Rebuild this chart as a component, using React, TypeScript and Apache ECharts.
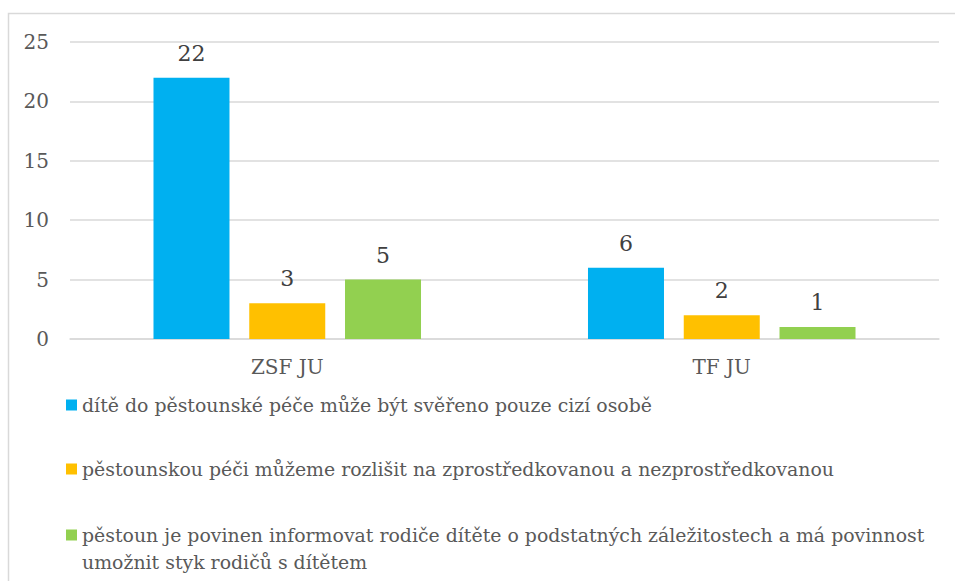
import React, { useEffect, useRef } from "react";
import * as echarts from "echarts";

const categories = ["ZSF JU", "TF JU"];
const legendLine1 = "dítě do pěstounské péče může být svěřeno pouze cizí osobě";
const legendLine2 = "pěstounskou péči můžeme rozlišit na zprostředkovanou a nezprostředkovanou";
const legendLine3a = "pěstoun je povinen informovat rodiče dítěte o podstatných záležitostech a má povinnost";
const legendLine3b = "umožnit styk rodičů s dítětem";
const seriesNames = [legendLine1, legendLine2, legendLine3a + " " + legendLine3b];
const seriesA = [22, 6];
const seriesB = [3, 2];
const seriesC = [5, 1];
const seriesValues = [seriesA, seriesB, seriesC];
const colors = ["#00B0F0", "#FFC000", "#92D050"];
const yMin = 0;
const yMax = 25;
const yInterval = 5;

const FONT = "DejaVu Serif";
const TXT = "#595959";

export default function App() {
  const ref = useRef<HTMLDivElement>(null);
  useEffect(() => {
    if (!ref.current) return;
    const chart = echarts.init(ref.current, undefined, { renderer: "svg" });
    const legendText = { color: TXT, fontFamily: FONT, fontSize: 18.9, lineHeight: 27 };
    const legendBase = {
      orient: "vertical",
      left: 66,
      padding: 0,
      itemWidth: 11,
      itemHeight: 11,
      itemGap: 0,
      selectedMode: false,
      icon: "rect",
      textStyle: legendText,
    };
    chart.setOption({
      animation: false,
      backgroundColor: "#ffffff",
      textStyle: { fontFamily: FONT },
      graphic: [
        {
          type: "rect",
          shape: { x: 8.5, y: 13.5, width: 1200, height: 1200 },
          style: { fill: "none", stroke: "#d9d9d9", lineWidth: 1.5 },
          silent: true,
          z: -10,
        },
      ],
      grid: { left: 70, right: 16, top: 42, bottom: 242, containLabel: false },
      legend: [
        { ...legendBase, top: 391.5, data: [seriesNames[0]] },
        { ...legendBase, top: 455.5, data: [seriesNames[1]] },
        { ...legendBase, top: 521.5, data: [seriesNames[2]], formatter: () => legendLine3a },
        {
          ...legendBase,
          top: 548.5,
          data: [{ name: seriesNames[2], itemStyle: { opacity: 0 } }],
          formatter: () => legendLine3b,
        },
      ],
      xAxis: {
        type: "category",
        data: categories,
        axisLine: { show: true, lineStyle: { color: "#d9d9d9", width: 1.5 } },
        axisTick: { show: false },
        axisLabel: { color: TXT, fontFamily: FONT, fontSize: 20, lineHeight: 22, margin: 17 },
      },
      yAxis: {
        type: "value",
        min: yMin,
        max: yMax,
        interval: yInterval,
        axisLine: { show: false },
        axisTick: { show: false },
        splitLine: { lineStyle: { color: "#d9d9d9", width: 1.5 } },
        axisLabel: { color: TXT, fontFamily: FONT, fontSize: 20, margin: 21 },
      },
      series: seriesValues.map((vals, i) => ({
        type: "bar",
        name: seriesNames[i],
        data: vals,
        barWidth: 76,
        barGap: "26%",
        itemStyle: { color: colors[i] },
        label: {
          show: true,
          position: "top",
          distance: 12,
          color: "#404040",
          fontFamily: FONT,
          fontSize: 22,
          lineHeight: 25,
        },
      })),
    });
    return () => chart.dispose();
  }, []);
  return (
    <div
      ref={ref}
      style={{ position: "fixed", left: 0, top: 0, width: 955, height: 581 }}
    />
  );
}
